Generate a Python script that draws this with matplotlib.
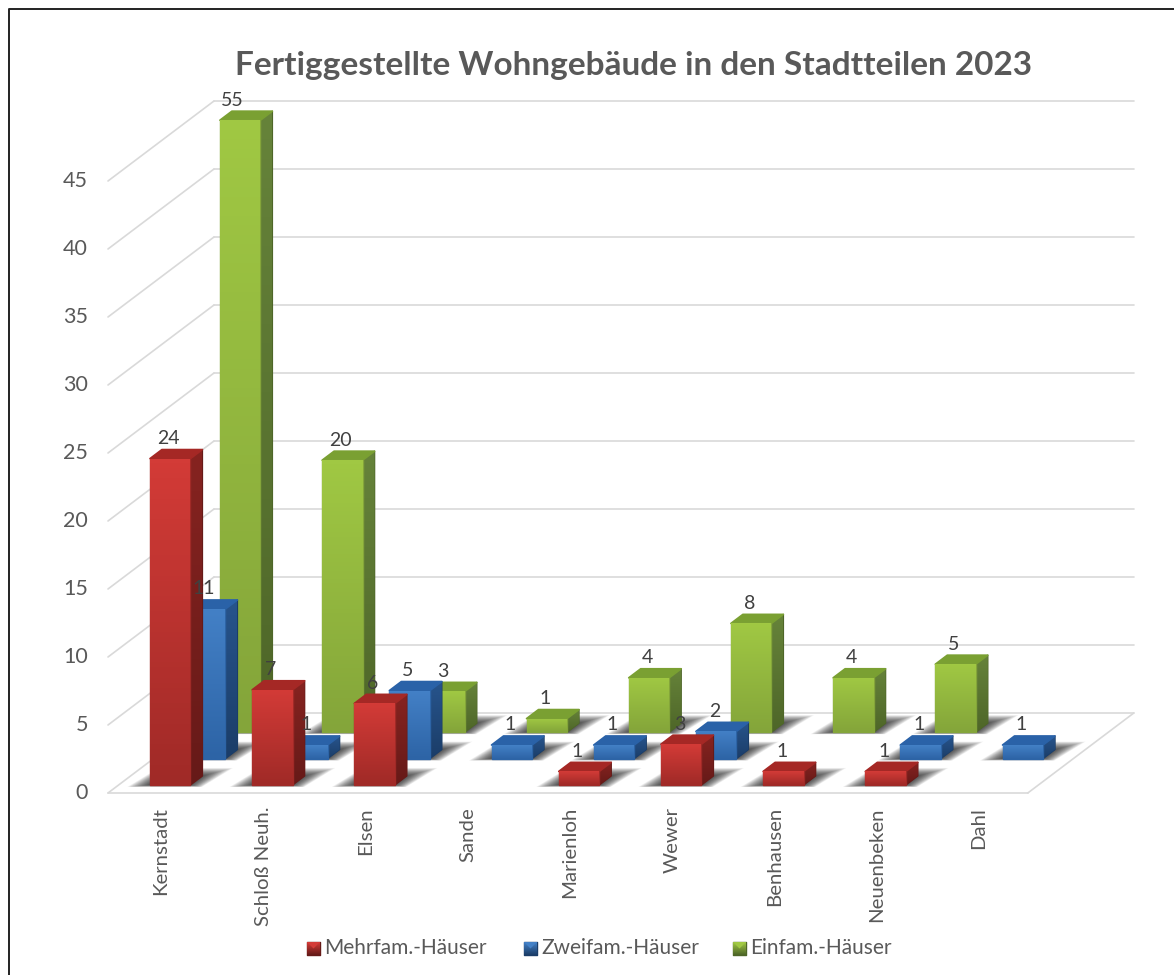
import numpy as np
import matplotlib
matplotlib.use("Agg")
import matplotlib.pyplot as plt
from matplotlib.colors import LinearSegmentedColormap
from matplotlib.patches import Polygon

categories = ["Kernstadt", "Schloß Neuh.", "Elsen", "Sande", "Marienloh",
              "Wewer", "Benhausen", "Neuenbeken", "Dahl"]
mehrfam = [24, 7, 6, 0, 1, 3, 1, 1, 0]
zweifam = [11, 1, 5, 1, 1, 2, 0, 1, 1]
einfam = [55, 20, 3, 1, 4, 8, 4, 5, 0]
value_ticks = [0, 5, 10, 15, 20, 25, 30, 35, 40, 45]
legend_names = ["Mehrfam.-Häuser", "Zweifam.-Häuser", "Einfam.-Häuser"]

plt.rcParams["font.family"] = ["Lato", "DejaVu Sans"]

# scales: one category = 102.2 px, one value unit = 13.6 px
CAT_PX = 102.2
VAL_PX = 13.6
DEPTH_X = 106 / CAT_PX  # floor depth as seen on screen
DEPTH_Y = 80 / VAL_PX
YMAX = 45
BAR_W = 40.5 / CAT_PX
BAR_D = 0.113

# colours per row: front top, front bottom, side top, side bottom, roof
red = ("#d33b37", "#a02a27", "#862320", "#661a18", "#a52825")
blue = ("#4380c6", "#2d64a6", "#27548c", "#1b3d68", "#2a62a8")
green = ("#a0c843", "#84a53a", "#66833a", "#4e6628", "#7aa032")

fig = plt.figure(figsize=(11.74, 9.75), dpi=100)
ax = fig.add_axes([0, 0, 1, 1])
ax.set_xlim(-108 / CAT_PX, (1174 - 108) / CAT_PX)
ax.set_ylim((793 - 975) / VAL_PX, 793 / VAL_PX)
ax.axis("off")
lims = ax.get_xlim(), ax.get_ylim()


def project(x, depth, val):
    return x + depth * DEPTH_X, val + depth * DEPTH_Y


def grad_fill(xs, ys, top, bottom, z):
    poly = Polygon(list(zip(xs, ys)), closed=True, fc=bottom, ec=bottom, lw=1.0,
                   joinstyle="round", zorder=z)
    ax.add_patch(poly)
    cmap = LinearSegmentedColormap.from_list("g", [bottom, top])
    im = ax.imshow(np.linspace(0, 1, 64)[:, None], origin="lower", aspect="auto", cmap=cmap,
                   extent=[min(xs), max(xs), min(ys), max(ys)], zorder=z)
    im.set_clip_path(poly)


def draw_shadow(x, depth):
    n = 18
    for k in range(n):
        grow = (n - k) / n
        gx = 20 * grow / CAT_PX
        gd = 0.10 * grow
        low = depth - 0.025 * grow
        x0, y0 = project(x - gx, low, 0)
        x1, y1 = project(x + BAR_W + gx * 0.7, low, 0)
        x2, y2 = project(x + BAR_W + gx, depth + BAR_D + gd, 0)
        x3, y3 = project(x - gx * 0.7, depth + BAR_D + gd, 0)
        ax.fill([x0, x1, x2, x3], [y0, y1, y2, y3], color="black", alpha=0.055, lw=0, zorder=3)


def draw_bar(x, depth, val, cols, z):
    h = min(val, YMAX)
    fx, fy = project(x, depth, 0)
    bx, by = project(x, depth + BAR_D, 0)
    w = BAR_W
    # right side
    grad_fill([fx + w, bx + w, bx + w, fx + w], [fy, by, by + h, fy + h], cols[2], cols[3], z)
    # roof
    ax.add_patch(Polygon([(fx, fy + h), (fx + w, fy + h), (bx + w, by + h), (bx, by + h)],
                         closed=True, fc=cols[4], ec=cols[4], lw=1.2, joinstyle="round", zorder=z))
    # front
    grad_fill([fx, fx + w, fx + w, fx], [fy, fy, fy + h, fy + h], cols[0], cols[1], z + 0.1)


# back wall, side wall and floor lines
grid = dict(color="#d9d9d9", lw=1.2, zorder=1, solid_capstyle="round")
for v in value_ticks:
    bx, by = project(0, 1, v)
    ex, _ = project(9, 1, v)
    ax.plot([0, bx], [v, by], **grid)
    ax.plot([bx, ex], [by, by], **grid)
    ax.text(-20 / CAT_PX, v, str(v), ha="right", va="center", fontsize=15.5, color="#595959")
ax.plot([0, 9], [0, 0], **grid)
ex, ey = project(9, 1, 0)
ax.plot([9, ex], [0, ey], **grid)

rows = [(einfam, 0.76, green, 10), (zweifam, 0.43, blue, 200), (mehrfam, 0.10, red, 400)]
offset = (1 - BAR_W) / 2 + 0.5 / CAT_PX

for vals, depth, cols, z0 in rows:
    for i, v in enumerate(vals):
        if v > 0:
            draw_shadow(i + offset, depth)

for vals, depth, cols, z0 in rows:
    for i, v in enumerate(vals):
        if v == 0:
            continue
        draw_bar(i + offset, depth, v, cols, z0 + i * 2)
        fx, fy = project(i + offset, depth, min(v, YMAX))
        shift = -8 if v > YMAX else -1.5
        ax.text(fx + BAR_W / 2 + shift / CAT_PX, fy + 20 / VAL_PX, str(v), ha="center", va="center",
                fontsize=14, color="#404040", zorder=900)

for i, name in enumerate(categories):
    ax.text(i + 0.5 + 2 / CAT_PX, -14 / VAL_PX, name, rotation=90, ha="center", va="top",
            fontsize=14.7, color="#595959")

# legend
legend_x = [307, 524, 733]
for name, lx, cols in zip(legend_names, legend_x, (red, blue, green)):
    x0 = (lx - 108) / CAT_PX
    x1 = (lx + 13 - 108) / CAT_PX
    y0 = (793 - 955) / VAL_PX
    y1 = (793 - 942) / VAL_PX
    grad_fill([x0, x1, x1, x0], [y0, y0, y1, y1], cols[0], cols[3], 950)
    ax.add_patch(Polygon([(x0, y1), (x1, y1), ((x0 + x1) / 2, (y0 + y1) / 2)], closed=True,
                         fc=cols[0], lw=0, zorder=951))
    ax.text(x1 + 4 / CAT_PX, (793 - 948) / VAL_PX, name, ha="left", va="center",
            fontsize=15, color="#595959")

ax.text((634 - 108) / CAT_PX, (793 - 65) / VAL_PX, "Fertiggestellte Wohngebäude in den Stadtteilen 2023",
        ha="center", va="center", fontsize=24, fontweight="bold", color="#595959")

# frame of the picture: only top and left edge
ax.plot((np.array([1174, 9, 9]) - 108) / CAT_PX,
        (793 - np.array([8.5, 8.5, 975])) / VAL_PX, color="#222222", lw=1.4, zorder=990)

ax.set_xlim(lims[0])
ax.set_ylim(lims[1])
fig.savefig("out.png", dpi=100, facecolor="white")
